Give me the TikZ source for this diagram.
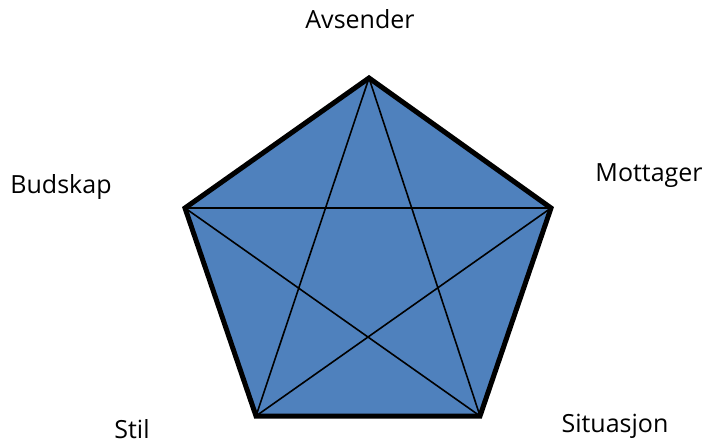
\documentclass[tikz,border=0pt]{standalone}
\usepackage{fontspec}
\setmainfont{Open Sans}
\definecolor{pentblue}{HTML}{4F81BD}

\begin{document}
\begin{tikzpicture}[x=1pt,y=-1pt,
  lbl/.style={font=\fontsize{25}{30}\selectfont, inner sep=0pt, anchor=base}]
  \useasboundingbox (0,0) rectangle (708,445);
  % Corners of the pentagon
  \coordinate (A) at (369,78);
  \coordinate (M) at (551,208);
  \coordinate (S) at (480,416);
  \coordinate (T) at (256,416);
  \coordinate (B) at (185,208);
  % Filled pentagon with thick rim
  \filldraw[fill=pentblue, line width=5pt, line join=miter] (A) -- (M) -- (S) -- (T) -- (B) -- cycle;
  % Star inside
  \draw[line width=1.6pt] (A) -- (S) -- (B) -- (M) -- (T) -- cycle;
  % Labels
  \node[lbl] (avs) at (360,28) {Avsender};
  \node[lbl] (mot) at (649,181) {Mottager};
  \node[lbl] (bud) at (61,193) {Budskap};
  \node[lbl] (stil) at (132,438) {Stil};
  \node[lbl] (sit) at (615,432) {Situasjon};
\end{tikzpicture}
\end{document}
